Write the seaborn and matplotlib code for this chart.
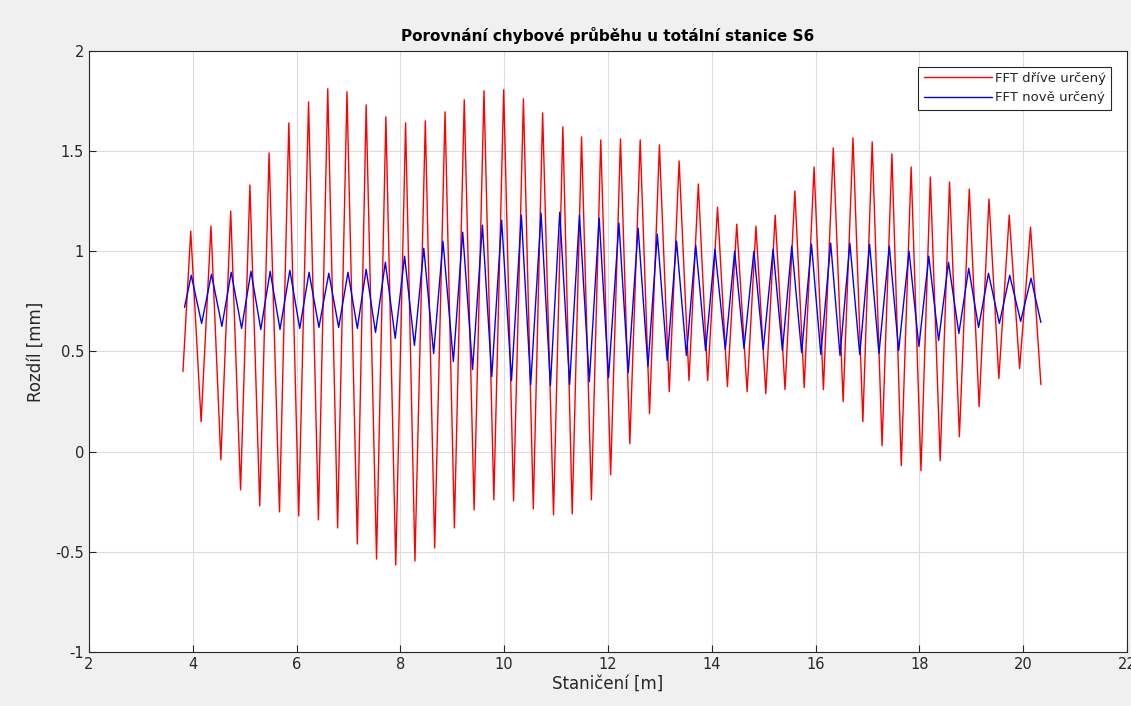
import pandas as pd
import matplotlib
matplotlib.use("Agg")
import matplotlib.pyplot as plt
import seaborn as sns

# vrcholy a minima (stanicni [m], rozdil [mm])
red_x = [3.81, 3.96, 4.16, 4.35, 4.54, 4.73, 4.92, 5.10, 5.29, 5.47, 5.67, 5.85, 6.04, 6.23, 6.42,
         6.60, 6.79, 6.97, 7.17, 7.34, 7.54, 7.72, 7.91, 8.10, 8.28, 8.48, 8.66, 8.86, 9.04, 9.23,
         9.42, 9.61, 9.80, 9.99, 10.18, 10.37, 10.56, 10.74, 10.95, 11.13, 11.31, 11.49, 11.68,
         11.86, 12.05, 12.24, 12.42, 12.62, 12.80, 12.99, 13.18, 13.37, 13.56, 13.74, 13.92,
         14.11, 14.30, 14.48, 14.68, 14.85, 15.04, 15.22, 15.41, 15.60, 15.78, 15.97, 16.15,
         16.34, 16.53, 16.72, 16.91, 17.09, 17.28, 17.47, 17.65, 17.84, 18.03, 18.21, 18.40,
         18.58, 18.77, 18.96, 19.15, 19.34, 19.53, 19.73, 19.93, 20.14, 20.34]
red_y = [0.40, 1.10, 0.15, 1.125, -0.04, 1.20, -0.19, 1.33, -0.27, 1.49, -0.30, 1.64, -0.32, 1.745,
         -0.34, 1.81, -0.38, 1.795, -0.46, 1.73, -0.535, 1.67, -0.565, 1.64, -0.545, 1.65, -0.48,
         1.695, -0.38, 1.755, -0.29, 1.80, -0.24, 1.805, -0.245, 1.76, -0.285, 1.69, -0.315, 1.62,
         -0.31, 1.57, -0.24, 1.555, -0.115, 1.56, 0.04, 1.555, 0.19, 1.53, 0.30, 1.45, 0.355,
         1.335, 0.355, 1.22, 0.325, 1.135, 0.30, 1.125, 0.29, 1.18, 0.31, 1.30, 0.32, 1.42, 0.31,
         1.515, 0.25, 1.565, 0.15, 1.545, 0.03, 1.485, -0.07, 1.42, -0.095, 1.37, -0.045, 1.345,
         0.075, 1.31, 0.225, 1.26, 0.365, 1.18, 0.415, 1.12, 0.335]

blue_x = [3.84, 3.97, 4.17, 4.36, 4.56, 4.74, 4.94, 5.12, 5.31, 5.49, 5.68, 5.87, 6.06, 6.24, 6.43,
          6.62, 6.81, 6.99, 7.17, 7.34, 7.52, 7.71, 7.90, 8.08, 8.27, 8.45, 8.64, 8.82, 9.02, 9.20,
          9.39, 9.58, 9.76, 9.95, 10.14, 10.33, 10.51, 10.71, 10.89, 11.07, 11.26, 11.45, 11.64,
          11.83, 12.01, 12.21, 12.39, 12.58, 12.77, 12.95, 13.14, 13.32, 13.51, 13.69, 13.88,
          14.06, 14.26, 14.44, 14.62, 14.81, 14.99, 15.18, 15.36, 15.54, 15.73, 15.92, 16.10,
          16.29, 16.47, 16.66, 16.85, 17.04, 17.22, 17.42, 17.60, 17.80, 17.99, 18.18, 18.37,
          18.56, 18.76, 18.95, 19.14, 19.33, 19.54, 19.74, 19.95, 20.15, 20.34]
blue_y = [0.72, 0.88, 0.64, 0.885, 0.625, 0.895, 0.615, 0.90, 0.61, 0.90, 0.61, 0.905, 0.615, 0.895,
          0.62, 0.89, 0.62, 0.895, 0.615, 0.91, 0.595, 0.945, 0.565, 0.975, 0.53, 1.015, 0.49, 1.05,
          0.45, 1.095, 0.41, 1.13, 0.375, 1.155, 0.355, 1.18, 0.335, 1.19, 0.33, 1.195, 0.335, 1.18,
          0.35, 1.165, 0.37, 1.14, 0.395, 1.115, 0.425, 1.085, 0.455, 1.05, 0.48, 1.03, 0.505, 1.01,
          0.51, 1.0, 0.515, 1.0, 0.51, 1.01, 0.505, 1.025, 0.495, 1.035, 0.485, 1.04, 0.48, 1.04,
          0.485, 1.035, 0.49, 1.025, 0.505, 1.0, 0.525, 0.975, 0.555, 0.945, 0.59, 0.915, 0.62,
          0.89, 0.64, 0.88, 0.65, 0.865, 0.645]

x_ticks = [2, 4, 6, 8, 10, 12, 14, 16, 18, 20, 22]
y_ticks = [-1, -0.5, 0, 0.5, 1, 1.5, 2]
y_ticklabels = ["-1", "-0.5", "0", "0.5", "1", "1.5", "2"]

df_red = pd.DataFrame({"x": red_x, "y": red_y})
df_blue = pd.DataFrame({"x": blue_x, "y": blue_y})

sns.set_style("whitegrid")
plt.rcParams['font.family'] = ['DejaVu Sans']

fig = plt.figure(figsize=(11.31, 7.06), dpi=100, facecolor="#f0f0f0")
ax = fig.add_axes([0.0787, 0.0761, 0.9178, 0.8521])
ax.set_facecolor("white")

sns.lineplot(data=df_red, x="x", y="y", ax=ax, color="#ff0000", linewidth=1.0,
             sort=False, estimator=None, label="FFT dříve určený")
sns.lineplot(data=df_blue, x="x", y="y", ax=ax, color="#0000ff", linewidth=1.0,
             sort=False, estimator=None, label="FFT nově určený")

ax.set_xlim(2, 22)
ax.set_ylim(-1, 2)
ax.set_xticks(x_ticks)
ax.set_xticklabels([str(t) for t in x_ticks])
ax.set_yticks(y_ticks)
ax.set_yticklabels(y_ticklabels)
ax.grid(True, color="#dcdcdc", linewidth=0.8)
ax.tick_params(direction="in", length=5, width=0.8, colors="#262626", labelsize=10.5,
               bottom=True, left=True)
for s in ax.spines.values():
    s.set_color("#262626")
    s.set_linewidth(0.8)

ax.set_title("Porovnání chybové průběhu u totální stanice S6", fontsize=11,
             fontweight="bold", pad=7, color="black")
ax.set_xlabel("Staničení [m]", fontsize=12, color="#262626", labelpad=2)
ax.set_ylabel("Rozdíl [mm]", fontsize=12, color="#262626", labelpad=8)

leg = ax.legend(loc="upper right", fontsize=9.5, frameon=True, fancybox=False,
                edgecolor="#262626", framealpha=1, borderpad=0.4, handlelength=5.2,
                handletextpad=0.2, borderaxespad=1.2)
leg.get_frame().set_linewidth(0.8)

fig.savefig("out.png", dpi=100, facecolor=fig.get_facecolor())
